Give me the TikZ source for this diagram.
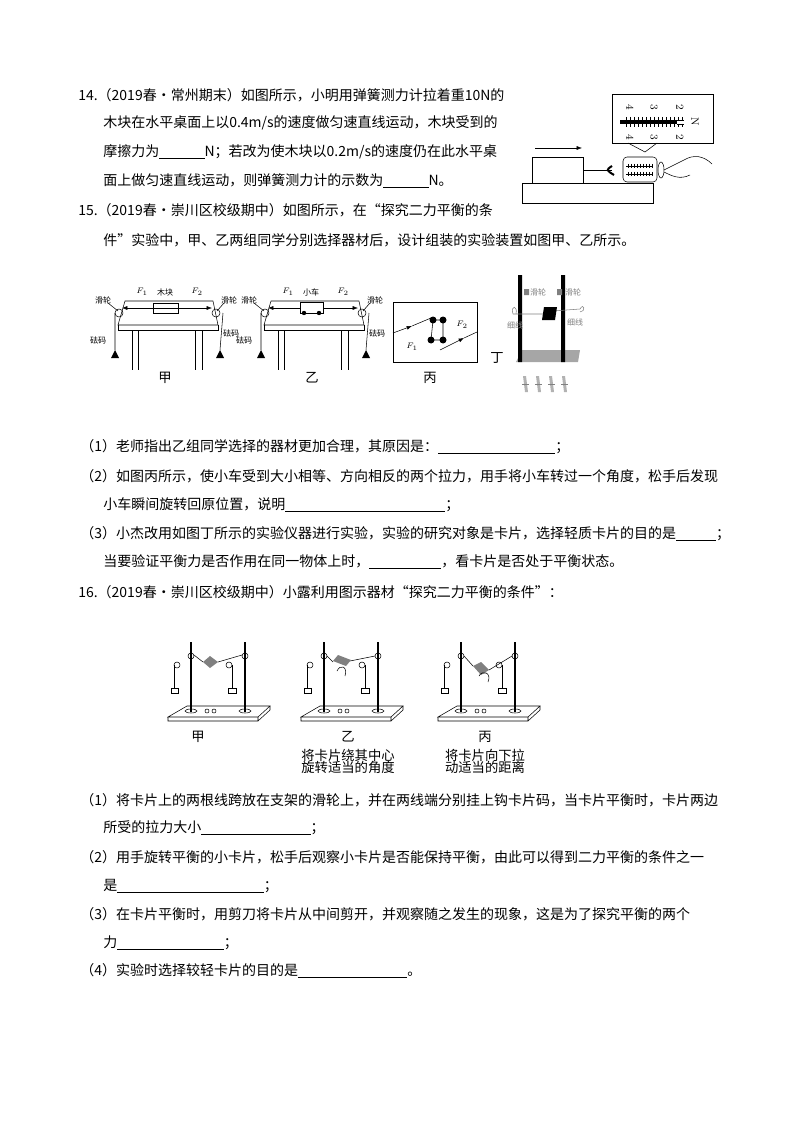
\documentclass[tikz,border=0pt]{standalone}
\usepackage{fontspec}
\newfontfamily\cjk{Noto Sans CJK SC}
\usetikzlibrary{arrows.meta}
\newcommand\blank[1]{\underline{\hspace{#1}}}
\tikzset{
  line/.style={anchor=west,inner sep=0pt,font=\cjk\fontsize{10.5}{12}\selectfont},
  captext/.style={inner sep=0pt,font=\cjk\fontsize{10}{12}\selectfont},
  tiny/.style={inner sep=0pt,font=\cjk\fontsize{6}{7}\selectfont},
  arr/.style={-{Latex[length=4pt,width=3pt]}},
}
% one pulley table of figure 15
\newcommand\PulleyTable[1]{%
  \draw (125,301) -- (213,301) -- (218,325) -- (118,325) -- cycle;
  \draw (118,325) -- (118,330) -- (218,330) -- (218,325);
  \foreach \x in {132,138,195,202} { \draw (\x,330) -- (\x,370); }
  \draw (119,313) circle (4) (216,313) circle (4);
  \draw (115,313) -- (115,350) (223,313) -- (220,350);
  \fill (115,350) -- (111,358) -- (119,358) -- cycle;
  \fill (220,350) -- (216,358) -- (224,358) -- cycle;
  \draw[arr] (#1,308) -- (122,308);
  \draw[arr] (#1,308) -- (212,308);
  \node[tiny] at (103,300) {滑轮}; \node[tiny] at (229,300) {滑轮};
  \draw (108,303) -- (118,311) (224,303) -- (217,311);
  \node[tiny] at (98,340) {砝码}; \node[tiny] at (231,333) {砝码};
  \node[tiny] at (142,292) {$F_1$}; \node[tiny] at (197,292) {$F_2$};
}
% one stand of figure 16
\newcommand\CardStand{%
  \draw[fill=white] (187,706) -- (270,706) -- (258,717) -- (168,717) -- cycle;
  \draw (168,717) -- (168,721) -- (258,721) -- (258,717) (258,721) -- (270,710) -- (270,706);
  \foreach \x in {191,245} {
    \draw[line width=1.2pt] (\x,642) -- (\x,712);
    \draw (\x,711) ellipse (6 and 2);
    \draw (\x,656) circle (3);
  }
  \foreach \x in {207,214} { \draw (\x,711) circle (2); }
  \draw (177,665) circle (3) (229,665) circle (3);
  \draw (174,665) -- (174,688) (232,665) -- (232,688);
  \draw (171,688) rectangle (178,693) (228,688) rectangle (236,693);
}
\begin{document}
\begin{tikzpicture}[x=0.75pt,y=-0.75pt]
\useasboundingbox (0,0) rectangle (794,1123);
% question 14
\node[line] (q14a) at (78,95) {14.（2019春•常州期末）如图所示，小明用弹簧测力计拉着重10N的};
\node[line] (q14b) at (103,123) {木块在水平桌面上以0.4m/s的速度做匀速直线运动，木块受到的};
\node[line] (q14c) at (103,152) {摩擦力为\blank{34pt}N；若改为使木块以0.2m/s的速度仍在此水平桌};
\node[line] (q14d) at (103,181) {面上做匀速直线运动，则弹簧测力计的示数为\blank{34pt}N。};
% spring balance picture
\draw (522,183) rectangle (653,203);
\draw (532,157) rectangle (583,183);
\draw[arr] (535,148) -- (582,148);
\draw (583,170) -- (612,170);
\draw[line width=1.5pt] (612,166) .. controls (606,170) .. (614,175);
\draw[rounded corners=3pt] (623,157) rectangle (657,182);
\draw (626,166) -- (653,166) (626,174) -- (653,174);
\foreach \x in {628,631,...,652} { \draw (\x,164) -- (\x,168) (\x,172) -- (\x,176); }
\draw (661,170) ellipse (3 and 8);
\draw (684,160) .. controls (676,164) and (668,168) .. (664,170)
      (664,172) .. controls (672,176) and (680,180) .. (690,175)
      (684,160) .. controls (694,154) and (704,156) .. (712,164);
\draw (612,94) rectangle (713,143);
\draw (628,143) -- (645,152) -- (657,143);
\draw[line width=2.5pt] (620,122) -- (677,122);
\draw (677,120) -- (684,120) (677,124) -- (684,124);
\foreach \x in {626,630,...,682} { \draw (\x,117) -- (\x,120) (\x,124) -- (\x,127); }
\foreach \x/\n in {630/4,654/3,680/2} {
  \node[inner sep=0pt,font=\footnotesize,rotate=-90] at (\x,107) {\n};
  \node[inner sep=0pt,font=\footnotesize,rotate=-90] at (\x,137) {\n};
}
\node[inner sep=0pt,font=\footnotesize,rotate=-90] at (695,122) {N};
% question 15
\node[line] (q15a) at (78,210) {15.（2019春•崇川区校级期中）如图所示，在“探究二力平衡的条};
\node[line] (q15b) at (103,240) {件”实验中，甲、乙两组同学分别选择器材后，设计组装的实验装置如图甲、乙所示。};
% figure jia
\PulleyTable{165}
\draw (153,303) rectangle (178,313);
\node[tiny] at (165,292) {木块};
\node[captext] at (165,378) {甲};
% figure yi
\begin{scope}[shift={(146,0)}]
\PulleyTable{165}
\end{scope}
\draw[fill=white] (300,302) rectangle (323,313);
\fill (304,313) circle (2.2) (319,313) circle (2.2);
\node[tiny] at (311,292) {小车};
\node[captext] at (312,378) {乙};
% figure bing
\draw (393,302) rectangle (477,362);
\fill (433,320) circle (3.5) (443,320) circle (3.5) (431,340) circle (3.5) (443,340) circle (3.5);
\draw (433,320) -- (443,320) -- (443,340) -- (431,340) -- cycle;
\draw[arr] (393,333) -- (412,326);
\draw (412,326) -- (431,318);
\draw[arr] (440,350) -- (464,338);
\draw (464,338) -- (477,332);
\node[tiny] at (412,347) {$F_1$}; \node[tiny] at (462,325) {$F_2$};
\node[captext] at (430,378) {丙};
% figure ding
\node[captext] at (497,358) {丁};
\fill[gray!70] (522,350) -- (580,350) -- (578,362) -- (516,362) -- cycle;
\fill (518,275) rectangle (522,362) (561,275) rectangle (565,362);
\fill[gray] (524,289) rectangle (529,295) (557,289) rectangle (562,295);
\node[tiny,gray] at (538,292) {滑轮}; \node[tiny,gray] at (573,292) {滑轮};
\draw[gray] (513,314) -- (548,314) (553,311) -- (580,309);
\draw[gray] (513,314) .. controls (510,305) and (518,305) .. (516,314);
\draw[gray] (580,309) .. controls (584,302) and (586,312) .. (580,312);
\fill (544,307) -- (557,307) -- (555,320) -- (542,320) -- cycle;
\node[tiny,gray] at (515,325) {细线}; \node[tiny,gray] at (575,322) {细线};
\foreach \x in {523,536,549,562} {
  \fill[gray!60] (\x,376) -- (\x+3,376) -- (\x+5,392) -- (\x+2,392) -- cycle;
  \draw[gray] (\x-1,384) -- (\x+6,384);
}
% sub questions 15
\node[line] (s1) at (80,447) {（1）老师指出乙组同学选择的器材更加合理，其原因是：\blank{88pt}；};
\node[line] (s2) at (80,476) {（2）如图丙所示，使小车受到大小相等、方向相反的两个拉力，用手将小车转过一个角度，松手后发现};
\node[line] (s2b) at (103,505) {小车瞬间旋转回原位置，说明\blank{120pt}；};
\node[line] (s3) at (80,534) {（3）小杰改用如图丁所示的实验仪器进行实验，实验的研究对象是卡片，选择轻质卡片的目的是\blank{30pt}；};
\node[line] (s3b) at (103,562) {当要验证平衡力是否作用在同一物体上时，\blank{54pt}，看卡片是否处于平衡状态。};
% question 16
\node[line] (q16) at (78,592) {16.（2019春•崇川区校级期中）小露利用图示器材“探究二力平衡的条件”：};
\CardStand
\draw (194,655) -- (203,662) (218,662) -- (242,655);
\fill[gray] (203,662) -- (210,656) -- (218,662) -- (210,668) -- cycle;
\node[captext] at (198,737) {甲};
\begin{scope}[shift={(133,0)}]
\CardStand
\end{scope}
\draw (327,656) -- (333,662) (350,661) -- (375,656);
\fill[gray] (333,661) -- (338,655) -- (351,660) -- (346,666) -- cycle;
\draw (337,671) .. controls (340,664) and (348,666) .. (345,676);
\node[captext] at (348,737) {乙};
\node[captext] at (348,755) {将卡片绕其中心};
\node[captext] at (348,767) {旋转适当的角度};
\begin{scope}[shift={(270,0)}]
\CardStand
\end{scope}
\draw (464,656) -- (473,666) (489,670) -- (512,656);
\fill[gray] (473,666) -- (481,662) -- (489,670) -- (481,675) -- cycle;
\draw (479,676) .. controls (482,670) and (492,672) .. (488,682);
\node[captext] at (485,737) {丙};
\node[captext] at (485,755) {将卡片向下拉};
\node[captext] at (485,767) {动适当的距离};
% sub questions 16
\node[line] (t1) at (80,800) {（1）将卡片上的两根线跨放在支架的滑轮上，并在两线端分别挂上钩卡片码，当卡片平衡时，卡片两边};
\node[line] (t1b) at (103,828) {所受的拉力大小\blank{82pt}；};
\node[line] (t2) at (80,857) {（2）用手旋转平衡的小卡片，松手后观察小卡片是否能保持平衡，由此可以得到二力平衡的条件之一};
\node[line] (t2b) at (103,886) {是\blank{110pt}；};
\node[line] (t3) at (80,914) {（3）在卡片平衡时，用剪刀将卡片从中间剪开，并观察随之发生的现象，这是为了探究平衡的两个};
\node[line] (t3b) at (103,943) {力\blank{80pt}；};
\node[line] (t4) at (80,971) {（4）实验时选择较轻卡片的目的是\blank{82pt}。};
\end{tikzpicture}
\end{document}
